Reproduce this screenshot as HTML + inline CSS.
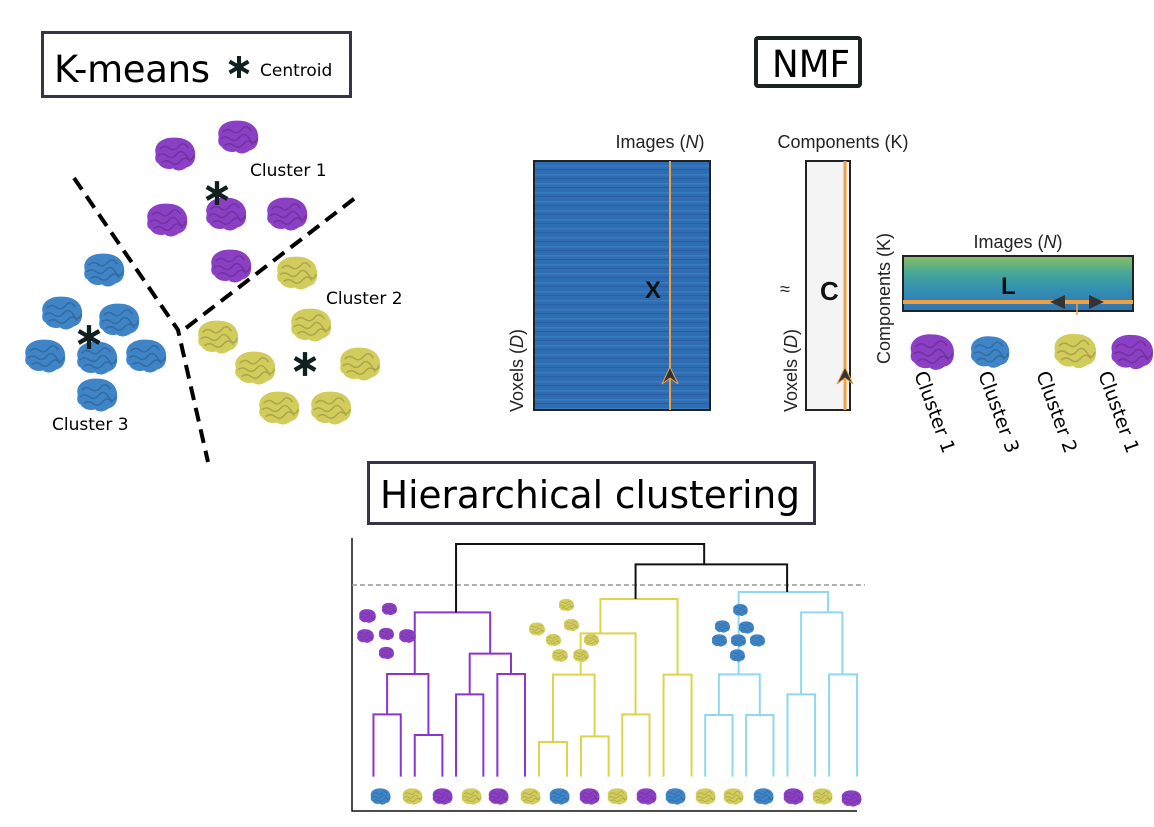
<!DOCTYPE html>
<html><head><meta charset="utf-8"><style>
html,body{margin:0;padding:0;background:#fff;}
svg{display:block;font-family:"DejaVu Sans","Liberation Sans",sans-serif;}
</style></head><body>
<svg width="1154" height="827" viewBox="0 0 1154 827" xmlns="http://www.w3.org/2000/svg">
<defs>
<symbol id="br" viewBox="0 0 50 40">
<path d="M6 20 C3 9 14 2 26 3 C40 3 48 11 47 22 C47 29 43 33 38 34 C33 38 27 38 24 35 C18 37 11 34 9 30 C5 28 5 24 6 20 Z" />
<path d="M10 15 Q15 10 20 14 T30 12 T40 14 M8 22 Q13 18 18 22 T28 20 T38 22 T46 21 M12 29 Q17 25 22 29 T32 27 T42 28" fill="none" stroke="#000" stroke-opacity="0.18" stroke-width="1.6"/>
</symbol>
<symbol id="st" viewBox="-12 -12 24 24">
<g stroke="#102020" stroke-width="4" stroke-linecap="butt">
<line x1="0" y1="-11" x2="0" y2="11"/><line x1="-9.5" y1="-5.5" x2="9.5" y2="5.5"/><line x1="-9.5" y1="5.5" x2="9.5" y2="-5.5"/>
</g>
</symbol>
<linearGradient id="lg" x1="0" y1="0" x2="0" y2="1">
<stop offset="0" stop-color="#8cbf62"/><stop offset="0.3" stop-color="#48a896"/><stop offset="0.6" stop-color="#3490b2"/><stop offset="1" stop-color="#2f74b4"/>
</linearGradient>
<pattern id="xs" width="4" height="9" patternUnits="userSpaceOnUse">
<rect width="4" height="9" fill="#2f6db3"/><rect y="3" width="4" height="1.5" fill="#3f86c0" opacity="0.6"/><rect y="7" width="4" height="1" fill="#2a5ea8"/>
</pattern>
</defs>

<!-- K-means -->
<rect x="42.5" y="32.5" width="308" height="64" fill="#fff" stroke="#353545" stroke-width="3"/>
<text x="54" y="82" font-size="37" textLength="156">K-means</text>
<use href="#st" x="227" y="55" width="24" height="24"/>
<text x="260" y="76" font-size="17">Centroid</text>

<g stroke="#000" stroke-width="4" stroke-dasharray="14 8" fill="none">
<path d="M74 178 L178 330 L208 462"/>
<path d="M186 328 L355 198"/>
</g>
<g fill="#8b3fc4">
<use href="#br" x="150" y="134" width="48" height="40"/>
<use href="#br" x="213" y="117" width="48" height="40"/>
<use href="#br" x="142" y="200" width="48" height="40"/>
<use href="#br" x="201" y="194" width="48" height="40"/>
<use href="#br" x="262" y="194" width="48" height="40"/>
<use href="#br" x="206" y="246" width="48" height="40"/>
</g>
<g fill="#3e84c6">
<use href="#br" x="79" y="250" width="48" height="40"/>
<use href="#br" x="37" y="293" width="48" height="40"/>
<use href="#br" x="94" y="300" width="48" height="40"/>
<use href="#br" x="20" y="336" width="48" height="40"/>
<use href="#br" x="72" y="338" width="48" height="40"/>
<use href="#br" x="121" y="336" width="48" height="40"/>
<use href="#br" x="72" y="375" width="48" height="40"/>
</g>
<g fill="#d2cc5c">
<use href="#br" x="272" y="253" width="48" height="40"/>
<use href="#br" x="193" y="317" width="48" height="40"/>
<use href="#br" x="286" y="305" width="48" height="40"/>
<use href="#br" x="230" y="348" width="48" height="40"/>
<use href="#br" x="335" y="344" width="48" height="40"/>
<use href="#br" x="254" y="388" width="48" height="40"/>
<use href="#br" x="306" y="388" width="48" height="40"/>
</g>
<use href="#st" x="204" y="180" width="26" height="26"/>
<use href="#st" x="76" y="324" width="26" height="26"/>
<use href="#st" x="292" y="351" width="26" height="26"/>
<g font-size="17"><text x="250" y="176">Cluster 1</text><text x="326" y="304">Cluster 2</text><text x="52" y="430">Cluster 3</text></g>

<!-- NMF -->
<rect x="756" y="38" width="104" height="48" fill="#fff" stroke="#1a2222" stroke-width="4" rx="2"/>
<text x="772" y="77" font-size="37" textLength="78" lengthAdjust="spacingAndGlyphs">NMF</text>

<g font-family="Liberation Sans, sans-serif" font-size="18" fill="#222">
<text x="660" y="148" text-anchor="middle">Images (<tspan font-style="italic">N</tspan>)</text>
<text x="843" y="148" text-anchor="middle">Components (K)</text>
<text x="1018" y="248" text-anchor="middle">Images (<tspan font-style="italic">N</tspan>)</text>
<text transform="translate(523,412) rotate(-90)">Voxels (<tspan font-style="italic">D</tspan>)</text>
<text transform="translate(797,412) rotate(-90)">Voxels (<tspan font-style="italic">D</tspan>)</text>
<text transform="translate(890,364) rotate(-90)">Components (K)</text>
<text x="780" y="295" font-size="18">≈</text>
</g>
<rect x="534" y="161" width="176" height="249" fill="url(#xs)" stroke="#222" stroke-width="2"/>
<line x1="670" y1="161" x2="670" y2="410" stroke="#f0a040" stroke-width="2"/>
<path d="M662 384 L670 367 L678 384 L670 378 Z" fill="#333" stroke="#f0a040" stroke-width="1"/>
<text x="645" y="298" font-family="Liberation Sans,sans-serif" font-size="24" font-weight="bold" fill="#111">X</text>

<rect x="806" y="161" width="44" height="249" fill="#f4f4f4" stroke="#222" stroke-width="2"/>
<line x1="845" y1="161" x2="845" y2="410" stroke="#f0a040" stroke-width="3"/>
<path d="M837 384 L845 367 L853 384 L845 378 Z" fill="#333" stroke="#f0a040" stroke-width="1"/>
<text x="820" y="300" font-family="Liberation Sans,sans-serif" font-size="26" font-weight="bold" fill="#111">C</text>

<rect x="903" y="256" width="230" height="55" fill="url(#lg)" stroke="#222" stroke-width="2"/>
<line x1="903" y1="302" x2="1133" y2="302" stroke="#f0a040" stroke-width="4"/>
<line x1="1077" y1="302" x2="1077" y2="315" stroke="#f0a040" stroke-width="1.5"/>
<path d="M1065 295 L1050 302 L1065 309 Z M1089 295 L1104 302 L1089 309 Z" fill="#333"/>
<text x="1001" y="294" font-family="Liberation Sans,sans-serif" font-size="24" font-weight="bold" fill="#111">L</text>
<use href="#br" x="905" y="330" width="52" height="44" fill="#8b3fc4"/>
<use href="#br" x="966" y="332" width="46" height="40" fill="#3e84c6"/>
<use href="#br" x="1049" y="330" width="50" height="42" fill="#d2cc5c"/>
<use href="#br" x="1106" y="330" width="50" height="44" fill="#8b3fc4"/>
<g font-size="19">
<text transform="translate(914,374) rotate(70)">Cluster 1</text>
<text transform="translate(978,374) rotate(70)">Cluster 3</text>
<text transform="translate(1036,374) rotate(70)">Cluster 2</text>
<text transform="translate(1098,374) rotate(70)">Cluster 1</text>
</g>

<!-- Hierarchical -->
<rect x="368.5" y="462.5" width="446" height="61" fill="#fff" stroke="#353545" stroke-width="3"/>
<text x="380" y="508" font-size="38" textLength="420" lengthAdjust="spacingAndGlyphs">Hierarchical clustering</text>

<path d="M352 538 L352 811 L857 811" fill="none" stroke="#111" stroke-width="1.5"/>
<line x1="352" y1="585" x2="865" y2="585" stroke="#999" stroke-width="1.5" stroke-dasharray="5 3"/>

<g transform="translate(340,530) scale(0.3413,0.3333)" fill="none" stroke-width="2" >
<path vector-effect="non-scaling-stroke" stroke="#8a35d0" d="M98 740 V553 H178 V740 M219 740 V615 H300 V740 M138 553 V432 H259 V615 M340 740 V493 H420 V740 M461 740 V432 H542 V740 M380 493 V371 H501 V432 M219 432 V247 H440 V371"/>
<path vector-effect="non-scaling-stroke" stroke="#ddd44a" d="M583 740 V636 H665 V740 M706 740 V619 H787 V740 M624 636 V434 H746 V619 M827 740 V553 H907 V740 M705 434 V310 H866 V553 M948 740 V434 H1030 V740 M763 310 V207 H989 V434"/>
<path vector-effect="non-scaling-stroke" stroke="#8fd8ef" d="M1070 740 V555 H1150 V740 M1190 740 V555 H1270 V740 M1110 555 V433 H1230 V555 M1311 740 V493 H1392 V740 M1433 740 V433 H1515 V740 M1351 493 V247 H1472 V433 M1168 433 V186 H1430 V247"/>
<path vector-effect="non-scaling-stroke" stroke="#111" d="M866 207 V103 H1310 V186 M340 247 V42 H1067 V103"/>
</g>
<g>
<use href="#br" x="368" y="787" width="24" height="19" fill="#3e84c6"/>
<use href="#br" x="400" y="787" width="24" height="19" fill="#d2cc5c"/>
<use href="#br" x="430" y="787" width="24" height="19" fill="#8b3fc4"/>
<use href="#br" x="459" y="787" width="24" height="19" fill="#d2cc5c"/>
<use href="#br" x="486" y="787" width="24" height="19" fill="#8b3fc4"/>
<use href="#br" x="518" y="787" width="24" height="19" fill="#d2cc5c"/>
<use href="#br" x="547" y="787" width="24" height="19" fill="#3e84c6"/>
<use href="#br" x="577" y="787" width="24" height="19" fill="#8b3fc4"/>
<use href="#br" x="605" y="787" width="24" height="19" fill="#d2cc5c"/>
<use href="#br" x="634" y="787" width="24" height="19" fill="#8b3fc4"/>
<use href="#br" x="663" y="787" width="24" height="19" fill="#3e84c6"/>
<use href="#br" x="693" y="787" width="24" height="19" fill="#d2cc5c"/>
<use href="#br" x="721" y="787" width="24" height="19" fill="#d2cc5c"/>
<use href="#br" x="751" y="787" width="24" height="19" fill="#3e84c6"/>
<use href="#br" x="781" y="787" width="24" height="19" fill="#8b3fc4"/>
<use href="#br" x="810" y="787" width="24" height="19" fill="#d2cc5c"/>
<use href="#br" x="839" y="789" width="24" height="19" fill="#8b3fc4"/>
<g fill="#8b3fc4">
<use href="#br" x="357" y="608" width="20" height="16"/><use href="#br" x="380" y="601" width="18" height="16"/>
<use href="#br" x="355" y="628" width="20" height="16"/><use href="#br" x="377" y="626" width="18" height="16"/>
<use href="#br" x="397" y="628" width="20" height="16"/><use href="#br" x="377" y="645" width="18" height="16"/>
</g>
<g fill="#d2cc5c">
<use href="#br" x="557" y="597" width="18" height="16"/>
<use href="#br" x="527" y="621" width="19" height="16"/><use href="#br" x="562" y="617" width="18" height="16"/>
<use href="#br" x="544" y="632" width="18" height="16"/><use href="#br" x="582" y="632" width="18" height="16"/>
<use href="#br" x="550" y="648" width="19" height="15"/><use href="#br" x="571" y="648" width="19" height="15"/>
</g>
<g fill="#3e84c6">
<use href="#br" x="731" y="603" width="18" height="14"/>
<use href="#br" x="713" y="619" width="18" height="15"/><use href="#br" x="737" y="620" width="18" height="15"/>
<use href="#br" x="710" y="633" width="18" height="15"/><use href="#br" x="729" y="633" width="18" height="15"/><use href="#br" x="748" y="633" width="18" height="15"/>
<use href="#br" x="728" y="648" width="18" height="15"/>
</g>
</g>
</svg>
</body></html>
